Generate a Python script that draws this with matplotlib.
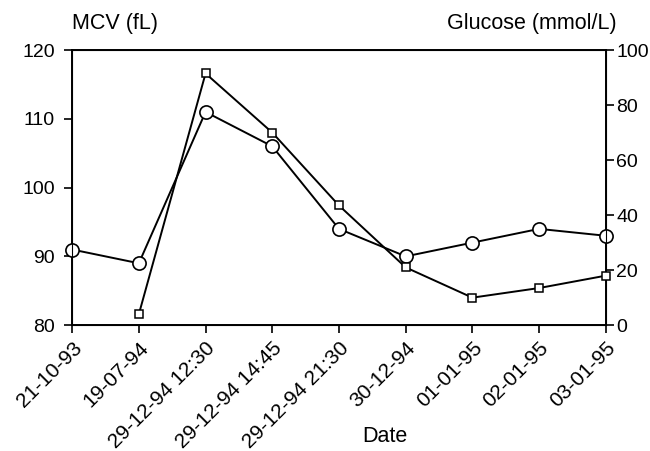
import matplotlib.pyplot as plt

plt.rcParams['font.family'] = ['Liberation Sans', 'DejaVu Sans']

dates = ['21-10-93', '19-07-94', '29-12-94 12:30', '29-12-94 14:45',
         '29-12-94 21:30', '30-12-94', '01-01-95', '02-01-95', '03-01-95']
mcv = [91, 89, 111, 106, 94, 90, 92, 94, 93]
glucose = [None, 4, 91.5, 70, 43.5, 21, 10, 13.5, 18]

x = list(range(len(dates)))
fig = plt.figure(figsize=(6.5, 4.51), dpi=100)
ax = fig.add_axes([0.111, 0.279, 0.821, 0.61])
ax2 = ax.twinx()

ax.plot(x, mcv, color='black', lw=1.4, marker='o', ms=9.5, mfc='white', mec='black', mew=1.2, clip_on=False, zorder=3)
gx = [xi for xi, g in zip(x, glucose) if g is not None]
gy = [g for g in glucose if g is not None]
ax2.plot(gx, gy, color='black', lw=1.4, marker='s', ms=5.5, mfc='white', mec='black', mew=1.1, clip_on=False, zorder=3)

ax.set_xlim(0, len(dates) - 1)
ax.set_ylim(80, 120)
ax2.set_ylim(0, 100)
ax.set_yticks([80, 90, 100, 110, 120])
ax2.set_yticks([0, 20, 40, 60, 80, 100])
ax.set_xticks(x)
ax.set_xticklabels(dates, rotation=45, ha='right', rotation_mode='anchor')

for s in ax.spines.values():
    s.set_linewidth(1.4)
ax.tick_params(axis='y', labelsize=14, width=1.2, length=5.5, pad=7)
ax.tick_params(axis='x', labelsize=15, width=1.2, length=5.5, pad=4)
ax2.tick_params(axis='y', labelsize=14, width=1.2, length=5.5, pad=2)

fig.text(385 / 650, 1 - 436 / 451, 'Date', fontsize=15.5, ha='center', va='center')
fig.text(72 / 650, 1 - 24 / 451, 'MCV (fL)', fontsize=15.5, ha='left', va='center')
fig.text(617 / 650, 1 - 24 / 451, 'Glucose (mmol/L)', fontsize=15.5, ha='right', va='center')

fig.savefig('out.png', dpi=100)
